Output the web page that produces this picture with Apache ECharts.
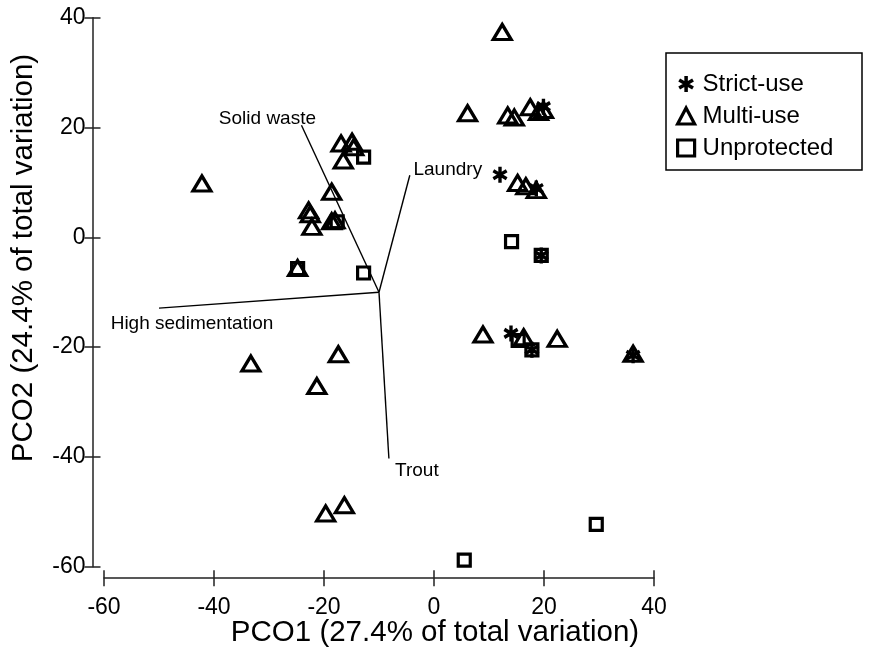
<!DOCTYPE html>
<html>
<head>
<meta charset="utf-8">
<script src="https://cdn.jsdelivr.net/npm/echarts@6/dist/echarts.min.js"></script>
<style>html,body{margin:0;padding:0;background:#fff}#c{width:876px;height:652px}</style>
</head>
<body>
<div id="c"></div>
<script>
// ---- data ----
const xTicks = [-60, -40, -20, 0, 20, 40];
const yTicks = [-60, -40, -20, 0, 20, 40];
const xTitle = 'PCO1 (27.4% of total variation)';
const yTitle = 'PCO2 (24.4% of total variation)';
const seriesNames = ['Strict-use', 'Multi-use', 'Unprotected'];
const strictUse = [
  [12.0, 11.4], [19.9, 23.8], [18.6, 8.9], [19.5, -3.3], [14.0, -17.5], [17.8, -20.5], [36.2, -21.5]
];
const multiUse = [
  [12.4, 37.4], [6.1, 22.6], [13.4, 22.2], [14.6, 21.8], [17.5, 23.7], [19.0, 22.8], [19.9, 23.2],
  [15.2, 9.9], [16.7, 9.3], [18.6, 8.6],
  [8.9, -17.7], [16.3, -18.2], [22.4, -18.5], [36.2, -21.2],
  [-42.2, 9.8], [-16.9, 17.1], [-14.9, 17.4], [-14.6, 16.4], [-16.5, 14.0], [-18.6, 8.3],
  [-22.8, 4.9], [-22.5, 4.2], [-22.2, 1.9], [-18.6, 2.9], [-18.0, 3.1], [-24.8, -5.6],
  [-33.3, -23.0], [-17.4, -21.3], [-21.3, -27.1], [-19.7, -50.3], [-16.3, -48.8]
];
const unprotected = [
  [-12.8, 14.6], [-17.6, 2.8], [-24.8, -5.7], [-12.8, -6.5], [14.1, -0.8], [19.5, -3.3],
  [15.3, -18.8], [17.8, -20.5], [29.5, -52.3], [5.5, -58.8]
];
const vectorOrigin = [-10, -10];
const vectorNames = ['Solid waste', 'Laundry', 'High sedimentation', 'Trout'];
const vectorEnds = [[-24.1, 20.4], [-4.4, 11.3], [-50, -12.9], [-8.2, -40.3]];

// ---- styles ----
const labelOffsets = {
  'Solid waste': [-34, -7],
  'Laundry': [38, -5],
  'High sedimentation': [33, 16],
  'Trout': [28, 12]
};
const FONT = '"Liberation Sans", Arial, sans-serif';
const INK = '#000';
const AXIS = '#222';
const asterisk = 'path://M7.8 20 L12.2 20 L12.2 0 L7.8 0 Z M17.56 16.9 L19.76 13.1 L2.44 3.1 L0.24 6.9 Z M0.24 13.1 L2.44 16.9 L19.76 6.9 L17.56 3.1 Z';

const chart = echarts.init(document.getElementById('c'), null, {renderer: 'canvas'});

function axisPair(dim, ticks) {
  const base = {
    type: 'value',
    min: ticks[0],
    max: ticks[ticks.length - 1],
    interval: ticks[1] - ticks[0],
    splitLine: {show: false},
    offset: 11.5,
    position: dim === 'x' ? 'bottom' : 'left'
  };
  return [
    Object.assign({}, base, {
      axisLine: {show: true, onZero: false, lineStyle: {color: AXIS, width: 1.5}},
      axisTick: {show: true, inside: false, length: 8, lineStyle: {color: AXIS, width: 1.5}},
      axisLabel: {
        show: true, color: INK, fontFamily: FONT, fontSize: 23,
        margin: dim === 'x' ? 18 : 7
      }
    }),
    Object.assign({}, base, {
      axisLine: {show: false, onZero: false},
      axisTick: {show: true, inside: true, length: 8, lineStyle: {color: AXIS, width: 1.5}},
      axisLabel: {show: false}
    })
  ];
}

const vectorSeries = vectorNames.map((name, i) => ({
  type: 'line',
  name: name,
  data: [vectorOrigin, vectorEnds[i]],
  symbol: 'none',
  silent: true,
  z: 1,
  lineStyle: {color: INK, width: 1.4},
  endLabel: {
    show: true,
    formatter: name,
    color: INK,
    fontFamily: FONT,
    fontSize: 19,
    align: 'center',
    verticalAlign: 'middle',
    distance: 0,
    offset: labelOffsets[name]
  }
}));

const openStyle = {color: 'rgba(255,255,255,0)', borderColor: INK, borderWidth: 3.2, opacity: 1};

const option = {
  animation: false,
  backgroundColor: '#fff',
  grid: {left: 104, right: 222, top: 17.7, bottom: 85.3, containLabel: false},
  xAxis: axisPair('x', xTicks),
  yAxis: axisPair('y', yTicks),
  legend: {
    data: [
      {name: seriesNames[0], itemStyle: {color: INK, borderWidth: 0, opacity: 1}},
      {name: seriesNames[1], itemStyle: openStyle},
      {name: seriesNames[2], itemStyle: openStyle}
    ],
    orient: 'vertical',
    left: 671,
    top: 67,
    itemGap: 8,
    itemWidth: 17,
    itemHeight: 16,
    textStyle: {fontFamily: FONT, fontSize: 24, color: INK, padding: [0, 0, 0, 3]}
  },
  graphic: [
    {type: 'rect', shape: {x: 666, y: 53, width: 196, height: 117},
     style: {fill: 'none', stroke: INK, lineWidth: 1.5}, z: 0},
    {type: 'text', x: 435, y: 633,
     style: {text: xTitle, font: '29.5px ' + FONT, fill: INK, textAlign: 'center', textVerticalAlign: 'middle'}},
    {type: 'text', x: 24, y: 258, rotation: Math.PI / 2,
     style: {text: yTitle, font: '29.5px ' + FONT, fill: INK, textAlign: 'center', textVerticalAlign: 'middle'}}
  ],
  series: vectorSeries.concat([
    {
      type: 'scatter', name: seriesNames[1], data: multiUse, z: 3,
      symbol: 'triangle', symbolSize: [18, 15],
      itemStyle: openStyle
    },
    {
      type: 'scatter', name: seriesNames[2], data: unprotected, z: 3,
      symbol: 'rect', symbolSize: 12,
      itemStyle: openStyle
    },
    {
      type: 'scatter', name: seriesNames[0], data: strictUse, z: 4,
      symbol: asterisk, symbolSize: [15, 16],
      itemStyle: {color: INK, opacity: 1}
    }
  ])
};
chart.setOption(option);
</script>
</body>
</html>
